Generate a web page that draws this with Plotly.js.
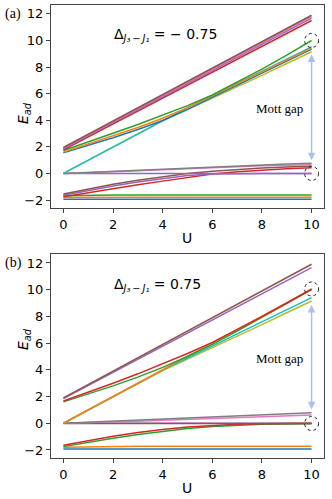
<!DOCTYPE html>
<html>
<head>
<meta charset="utf-8">
<script src="https://cdn.plot.ly/plotly-3.0.1.min.js"></script>
<style>
  html, body { margin: 0; padding: 0; background: #fff; }
  #myDiv { width: 332px; height: 499px; }
</style>
</head>
<body>
<div id="myDiv"></div>
<script>
let U = [0, 1, 2, 3, 4, 5, 6, 7, 8, 9, 10];

// panel (a)  Delta = -0.75
let aBrownTop  = [1.95, 2.94, 3.94, 4.93, 5.93, 6.92, 7.92, 8.91, 9.91, 10.9, 11.9];
let aPinkTop   = [1.90, 2.89, 3.88, 4.87, 5.86, 6.85, 7.84, 8.83, 9.82, 10.81, 11.8];
let aPurpleTop = [1.85, 2.83, 3.82, 4.80, 5.79, 6.77, 7.75, 8.74, 9.72, 10.7, 11.68];
let aRedTop    = [1.78, 2.75, 3.73, 4.70, 5.68, 6.65, 7.62, 8.59, 9.56, 10.53, 11.5];
let aGreen  = [1.72, 2.35, 3.02, 3.68, 4.40, 5.10, 5.90, 6.85, 7.85, 8.90, 10.0];
let aOrange = [1.60, 2.20, 2.82, 3.45, 4.15, 4.95, 5.85, 6.75, 7.65, 8.55, 9.42];
let aBlue   = [1.55, 2.10, 2.68, 3.30, 3.98, 4.82, 5.75, 6.65, 7.55, 8.45, 9.35];
let aCyan   = [0, 1.0, 2.0, 3.0, 4.0, 4.95, 5.85, 6.78, 7.70, 8.62, 9.52];
let aOlive  = [0, 0.99, 1.98, 2.97, 3.96, 4.80, 5.65, 6.50, 7.38, 8.27, 9.15];
let aGrayLow   = [0, 0.08, 0.17, 0.26, 0.35, 0.43, 0.51, 0.58, 0.65, 0.71, 0.77];
let aPinkLow   = [0, 0.05, 0.12, 0.20, 0.28, 0.36, 0.44, 0.51, 0.57, 0.62, 0.66];
let aPurpleFlat = [0, 0, 0, 0, 0, 0, 0, 0, 0, 0, 0];
let aBrownLow  = [-1.55, -1.17, -0.82, -0.52, -0.25, 0.0, 0.17, 0.30, 0.40, 0.48, 0.55];
let aPurpleLow = [-1.65, -1.28, -0.94, -0.64, -0.38, -0.16, -0.04, 0, 0, 0, 0];
let aRedLow    = [-1.75, -1.44, -1.14, -0.86, -0.58, -0.30, -0.05, 0.12, 0.25, 0.35, 0.42];
let aGreenFlat  = [-1.68, -1.64, -1.63, -1.62, -1.62, -1.62, -1.62, -1.62, -1.62, -1.62, -1.62];
let aOrangeFlat = [-1.82, -1.80, -1.80, -1.80, -1.80, -1.80, -1.80, -1.80, -1.80, -1.80, -1.80];
let aBlueFlat   = [-1.95, -1.95, -1.95, -1.95, -1.95, -1.95, -1.95, -1.95, -1.95, -1.95, -1.95];

// panel (b)  Delta = 0.75
let bBrownTop  = [1.90, 2.90, 3.90, 4.90, 5.90, 6.90, 7.90, 8.90, 9.90, 10.9, 11.9];
let bPurpleTop = [1.85, 2.83, 3.81, 4.79, 5.77, 6.75, 7.73, 8.71, 9.69, 10.67, 11.65];
let bRed    = [1.67, 2.32, 3.00, 3.70, 4.45, 5.22, 6.05, 7.00, 7.98, 9.00, 10.05];
let bGreen  = [1.60, 2.18, 2.80, 3.45, 4.18, 5.00, 5.90, 6.90, 7.92, 8.95, 10.0];
let bOrange = [0, 1.0, 2.0, 3.0, 4.0, 5.0, 5.98, 6.98, 8.0, 9.02, 10.02];
let bCyan   = [0, 1.0, 2.0, 3.0, 3.98, 4.88, 5.78, 6.68, 7.58, 8.50, 9.40];
let bOlive  = [0, 0.99, 1.98, 2.97, 3.95, 4.80, 5.65, 6.50, 7.38, 8.27, 9.15];
let bGrayLow   = [0, 0.08, 0.17, 0.26, 0.35, 0.44, 0.52, 0.60, 0.67, 0.73, 0.79];
let bPinkLow   = [0, 0.04, 0.09, 0.15, 0.22, 0.29, 0.36, 0.43, 0.50, 0.56, 0.62];
let bPurpleFlat = [0, 0, 0, 0, 0, 0, 0, 0, 0, 0, 0];
let bBrownFlat  = [-0.02, -0.02, -0.02, -0.02, -0.02, -0.02, -0.02, -0.02, -0.02, -0.02, -0.02];
let bRedLow    = [-1.65, -1.30, -0.98, -0.70, -0.46, -0.28, -0.15, -0.07, -0.03, -0.01, 0];
let bGreenLow  = [-1.75, -1.42, -1.12, -0.85, -0.60, -0.40, -0.25, -0.15, -0.08, -0.05, -0.04];
let bOrangeFlat = [-1.80, -1.76, -1.74, -1.73, -1.72, -1.72, -1.72, -1.72, -1.72, -1.72, -1.72];
let bBlueFlat   = [-1.93, -1.93, -1.93, -1.93, -1.93, -1.93, -1.93, -1.93, -1.93, -1.93, -1.93];

let c = {
    blue: '#1f77b4', orange: '#ff7f0e', green: '#2ca02c', red: '#d62728', purple: '#9467bd',
    brown: '#8c564b', pink: '#e377c2', gray: '#7f7f7f', olive: '#bcbd22', cyan: '#17becf'
};

function line(y, color, ax) {
    return {
        x: U, y: y, type: 'scatter', mode: 'lines',
        xaxis: ax === 2 ? 'x2' : 'x', yaxis: ax === 2 ? 'y2' : 'y',
        line: { color: color, width: 1.5 },
        hoverinfo: 'skip', showlegend: false
    };
}

var data = [
    line(aBlueFlat, c.blue, 1), line(aOrangeFlat, c.orange, 1), line(aGreenFlat, c.green, 1),
    line(aRedLow, c.red, 1), line(aPurpleLow, c.purple, 1), line(aBrownLow, c.brown, 1),
    line(aPurpleFlat, c.purple, 1), line(aPinkLow, c.pink, 1), line(aGrayLow, c.gray, 1),
    line(aOlive, c.olive, 1), line(aCyan, c.cyan, 1), line(aBlue, c.blue, 1),
    line(aOrange, c.orange, 1), line(aGreen, c.green, 1),
    line(aRedTop, c.red, 1), line(aPurpleTop, c.purple, 1), line(aPinkTop, c.pink, 1), line(aBrownTop, c.brown, 1),

    line(bBlueFlat, c.blue, 2), line(bOrangeFlat, c.orange, 2),
    line(bGreenLow, c.green, 2), line(bPurpleFlat, c.purple, 2), line(bRedLow, c.red, 2), line(bBrownFlat, c.brown, 2),
    line(bPinkLow, c.pink, 2), line(bGrayLow, c.gray, 2),
    line(bOlive, c.olive, 2), line(bCyan, c.cyan, 2), line(bOrange, c.orange, 2),
    line(bGreen, c.green, 2), line(bRed, c.red, 2),
    line(bPurpleTop, c.purple, 2), line(bBrownTop, c.brown, 2)
];

let last = U.length - 1;
let tickFont = { family: 'DejaVu Sans', size: 13, color: '#000' };

function xax(anchor) {
    return {
        domain: [0.1536, 0.9759], range: [-0.5, 10.5], anchor: anchor,
        tickvals: [0, 2, 4, 6, 8, 10], ticks: 'outside', ticklen: 4, tickcolor: '#444',
        showline: true, mirror: true, linecolor: '#444', linewidth: 1,
        showgrid: false, zeroline: false, tickfont: tickFont, automargin: false
    };
}
function yax(anchor, dom) {
    return {
        domain: dom, range: [-2.6, 12.67], anchor: anchor,
        tickvals: [-2, 0, 2, 4, 6, 8, 10, 12], ticktext: ['\u22122', '0', '2', '4', '6', '8', '10', '12'],
        ticks: 'outside', ticklen: 4, tickcolor: '#444',
        showline: true, mirror: true, linecolor: '#444', linewidth: 1,
        showgrid: false, zeroline: false, tickfont: tickFont, automargin: false
    };
}

let arrowColor = '#a9c1ee';
let serif = { family: 'Liberation Serif', size: 13, color: '#000' };
let sans = { family: 'DejaVu Sans', size: 14, color: '#000' };

function circle(xr, yr, yv) {
    return {
        type: 'circle', xref: xr, yref: yr, xsizemode: 'pixel', ysizemode: 'pixel',
        xanchor: U[last], yanchor: yv, x0: -7, x1: 7, y0: -7, y1: 7,
        line: { color: '#222', width: 1, dash: 'dot' }
    };
}

var layout = {
    width: 332, height: 499,
    margin: { l: 0, r: 0, t: 0, b: 0 },
    paper_bgcolor: '#fff', plot_bgcolor: '#fff',
    xaxis: xax('y'), yaxis: yax('x', [0.5832, 0.99]),
    xaxis2: xax('y2'), yaxis2: yax('x2', [0.0822, 0.491]),
    shapes: [
        circle('x', 'y', aGreen[last]), circle('x', 'y', aPurpleFlat[last]),
        circle('x2', 'y2', bRed[last]), circle('x2', 'y2', bBrownFlat[last])
    ],
    annotations: [
        { xref: 'paper', yref: 'paper', x: 0.008, y: 1 - 14 / 499, xanchor: 'left', yanchor: 'middle',
          text: '(a)', showarrow: false, font: { family: 'Liberation Serif', size: 14, color: '#000' } },
        { xref: 'paper', yref: 'paper', x: 0.008, y: 1 - 263 / 499, xanchor: 'left', yanchor: 'middle',
          text: '(b)', showarrow: false, font: { family: 'Liberation Serif', size: 14, color: '#000' } },
        { xref: 'paper', yref: 'paper', x: 13 / 332, y: 1 - 100 / 499, textangle: -90,
          text: '<i>E</i><sub><i>ad</i></sub>', showarrow: false, font: sans },
        { xref: 'paper', yref: 'paper', x: 13 / 332, y: 1 - 352 / 499, textangle: -90,
          text: '<i>E</i><sub><i>ad</i></sub>', showarrow: false, font: sans },
        { xref: 'paper', yref: 'paper', x: 187 / 332, y: 1 - 228 / 499, yanchor: 'top',
          text: 'U', showarrow: false, font: sans },
        { xref: 'paper', yref: 'paper', x: 187 / 332, y: 1 - 478 / 499, yanchor: 'top',
          text: 'U', showarrow: false, font: sans },
        { xref: 'x', yref: 'y', x: 1.97, y: 10.4, xanchor: 'left',
          text: '\u0394<sub><i>J\u2083\u2009\u2212\u2009J\u2081</i></sub> = \u2212 0.75', showarrow: false, font: sans },
        { xref: 'x2', yref: 'y2', x: 1.97, y: 10.35, xanchor: 'left',
          text: '\u0394<sub><i>J\u2083\u2009\u2212\u2009J\u2081</i></sub> = 0.75', showarrow: false, font: sans },
        { xref: 'x', yref: 'y', x: 9.75, y: 4.9, xanchor: 'right',
          text: 'Mott gap', showarrow: false, font: serif },
        { xref: 'x2', yref: 'y2', x: 9.75, y: 4.86, xanchor: 'right',
          text: 'Mott gap', showarrow: false, font: serif },
        { xref: 'x', yref: 'y', axref: 'x', ayref: 'y', x: U[last], y: 1.0, ax: U[last], ay: 9.05,
          text: '', showarrow: true, arrowhead: 2, startarrowhead: 2, arrowside: 'end+start',
          arrowsize: 1, arrowwidth: 1.5, arrowcolor: arrowColor, standoff: 0, startstandoff: 0 },
        { xref: 'x2', yref: 'y2', axref: 'x2', ayref: 'y2', x: U[last], y: 1.05, ax: U[last], ay: 8.97,
          text: '', showarrow: true, arrowhead: 2, startarrowhead: 2, arrowside: 'end+start',
          arrowsize: 1, arrowwidth: 1.5, arrowcolor: arrowColor, standoff: 0, startstandoff: 0 }
    ]
};

Plotly.newPlot('myDiv', data, layout, { staticPlot: true });
</script>
</body>
</html>
